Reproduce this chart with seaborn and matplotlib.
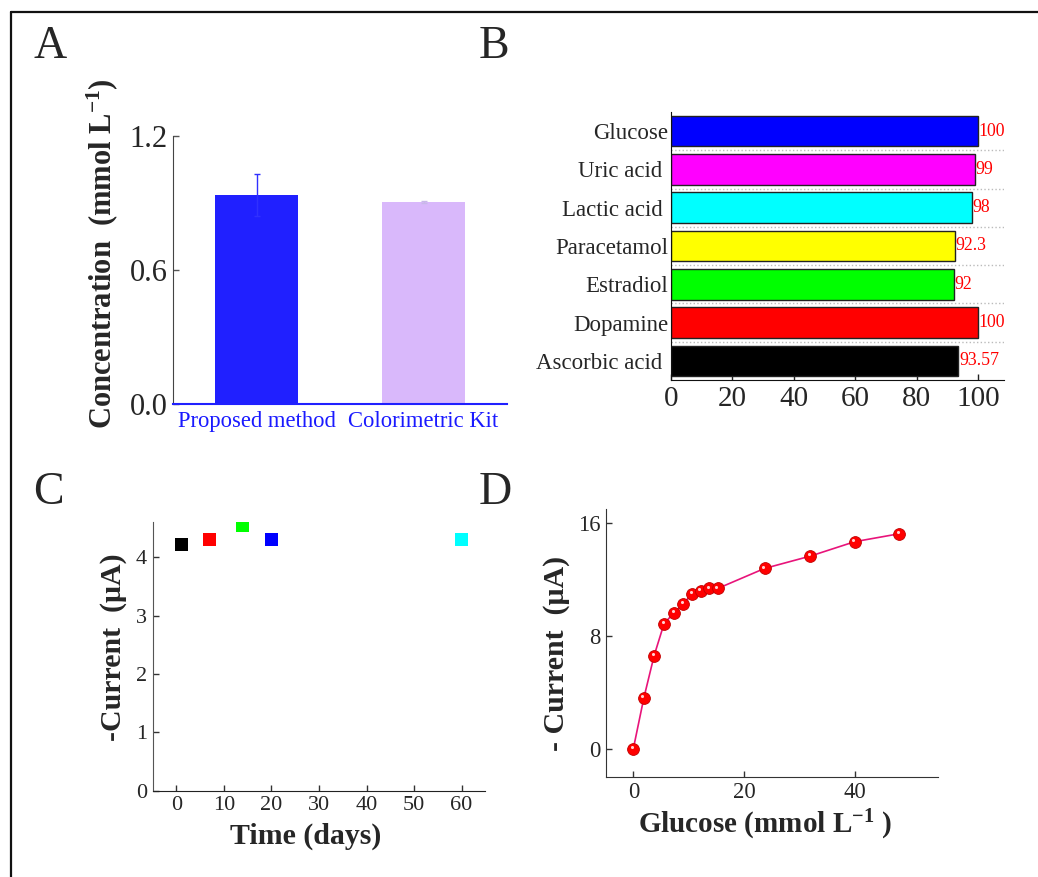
import numpy as np
import pandas as pd
import matplotlib
matplotlib.use("Agg")
import matplotlib.pyplot as plt
from matplotlib.lines import Line2D
from matplotlib import transforms
import seaborn as sns

# ---------------- data ----------------
# Panel A
methods = ["Proposed method", "Colorimetric Kit"]
concentration = [0.936, 0.904]
concentration_err = [0.092, 0.004]
method_colors = ["#2020ff", "#d9b8fb"]
method_err_colors = ["#3030ff", "#c8b8e8"]

# Panel B
interferents = ["Glucose", "Uric acid ", "Lactic acid ", "Paracetamol",
                "Estradiol", "Dopamine", "Ascorbic acid "]
response = [100, 99, 98, 92.3, 92, 100, 93.57]
response_labels = ["100", "99", "98", "92.3", "92", "100", "93.57"]
interferent_colors = ["#0000ff", "#ff00ff", "#00ffff", "#ffff00",
                      "#00ff00", "#ff0000", "#000000"]

# Panel C
days = [1, 7, 14, 20, 60]
day_names = ["d1", "d7", "d14", "d20", "d60"]
stability_current = [4.22, 4.31, 4.55, 4.31, 4.31]
day_colors = ["#000000", "#ff0000", "#00ff00", "#0000ff", "#00ffff"]

# Panel D
glucose = [0, 1.9, 3.75, 5.55, 7.35, 9.05, 10.6, 12.2, 13.75, 15.25,
           23.7, 32.0, 40.0, 48.0]
calib_current = [0, 3.60, 6.59, 8.87, 9.63, 10.27, 11.0, 11.17, 11.36,
                 11.36, 12.78, 13.66, 14.68, 15.24]

# ---------------- style ----------------
sns.set_style("ticks")
plt.rcParams["font.family"] = ["Liberation Serif", "DejaVu Serif"]
plt.rcParams["mathtext.fontset"] = "custom"
plt.rcParams["mathtext.rm"] = "Liberation Serif"
plt.rcParams["mathtext.bf"] = "Liberation Serif:bold"
plt.rcParams["mathtext.it"] = "Liberation Serif:italic"
plt.rcParams["xtick.direction"] = "in"
plt.rcParams["ytick.direction"] = "in"

W, H = 1038, 877
fig = plt.figure(figsize=(W / 100, H / 100), dpi=100)


def rect(l, r, t, b):
    return [l / W, (H - b) / H, (r - l) / W, (b - t) / H]


# ---------------- panel A ----------------
axA = fig.add_axes(rect(173, 507, 136, 404))
dfA = pd.DataFrame({"method": methods, "conc": concentration})
sns.barplot(data=dfA, x="method", y="conc", hue="method", palette=method_colors,
            width=0.5, saturation=1, legend=False, errorbar=None, ax=axA,
            linewidth=0)
for i, (v, e) in enumerate(zip(concentration, concentration_err)):
    axA.errorbar(i, v, yerr=e, fmt="none", ecolor=method_err_colors[i],
                 elinewidth=1, capsize=2.2, capthick=1, zorder=5)
axA.set_xlim(-0.5, 1.5)
axA.set_ylim(0, 1.2)
axA.set_yticks([0, 0.6, 1.2])
axA.set_yticklabels(["0.0", "0.6", "1.2"])
axA.tick_params(axis="y", labelsize=22, length=4, width=1, color="#555555", pad=4)
axA.tick_params(axis="x", labelsize=16.3, length=4, width=1, color="#2020ff",
                labelcolor="#1a1aff", pad=5)
axA.set_xlabel("")
axA.set_ylabel(r"Concentration  (mmol L$^{\mathbf{-1}}$)", fontsize=22,
               fontweight="bold")
axA.yaxis.set_label_coords(-0.159, 0.56)
for s in ["top", "right"]:
    axA.spines[s].set_visible(False)
axA.spines["bottom"].set_color("#2020ff")
axA.spines["bottom"].set_linewidth(1.5)
axA.spines["left"].set_color("#444444")

# ---------------- panel B ----------------
axB = fig.add_axes(rect(671, 1004, 112, 380))
dfB = pd.DataFrame({"name": interferents, "resp": response})
sns.barplot(data=dfB, x="resp", y="name", hue="name", palette=interferent_colors,
            orient="h", width=0.8, saturation=1, legend=False, errorbar=None,
            edgecolor="#222222", linewidth=1.0, ax=axB)
for cont, lab in zip(axB.containers, response_labels):
    axB.bar_label(cont, labels=[lab], padding=0.5, color="red", fontsize=12.8)
for i in range(len(interferents) - 1):
    axB.axhline(i + 0.5, color="#bbbbbb", linestyle=":", linewidth=1, zorder=0)
axB.set_xlim(0, 108.4)
axB.set_ylim(len(interferents) - 0.5, -0.5)
axB.set_xticks([0, 20, 40, 60, 80, 100])
axB.tick_params(axis="x", labelsize=21, length=4, width=1, color="#222222", pad=4)
axB.tick_params(axis="y", labelsize=16.5, length=4, width=1, color="#222222", pad=2)
axB.set_xlabel("")
axB.set_ylabel("")
for s in ["top", "right"]:
    axB.spines[s].set_visible(False)
axB.spines["left"].set_color("#111111")
axB.spines["bottom"].set_color("#111111")

# ---------------- panel C ----------------
axC = fig.add_axes(rect(152.7, 485.3, 522.3, 790.7))
dfC = pd.DataFrame({"day": days, "cur": stability_current, "name": day_names})
sns.scatterplot(data=dfC, x="day", y="cur", hue="name", palette=day_colors,
                marker="s", s=88, linewidth=0, legend=False, ax=axC)
axC.set_xlim(-5, 65)
axC.set_ylim(0, 4.6)
axC.set_xticks([0, 10, 20, 30, 40, 50, 60])
axC.set_yticks([0, 1, 2, 3, 4])
axC.tick_params(axis="both", labelsize=16, length=4, width=1, color="#333333", pad=4)
axC.set_xlabel("Time (days)", fontsize=21.5, fontweight="bold")
axC.set_ylabel("-Current  (\u03bcA)", fontsize=21.5, fontweight="bold")
axC.xaxis.set_label_coords(0.46, -0.12)
axC.yaxis.set_label_coords(-0.077, 0.534)
for s in ["top", "right"]:
    axC.spines[s].set_visible(False)
axC.spines["left"].set_color("#555555")
axC.spines["bottom"].set_color("#222222")

# ---------------- panel D ----------------
axD = fig.add_axes(rect(605.7, 937.7, 509, 776.7))
dfD = pd.DataFrame({"glu": glucose, "cur": calib_current})
sns.lineplot(data=dfD, x="glu", y="cur", color="#e8147a", linewidth=1.2,
             marker="o", markersize=8.5, markerfacecolor="#ff0000",
             markeredgecolor="#c00000", markeredgewidth=0.6, ax=axD)
hl = transforms.offset_copy(axD.transData, fig=fig, x=-1.0, y=1.2, units="points")
axD.scatter(glucose, calib_current, s=5, color="#ffd0d0", linewidth=0,
            transform=hl, zorder=5)
axD.set_xlim(-5, 55)
axD.set_ylim(-2, 17)
axD.set_xticks([0, 20, 40])
axD.set_yticks([0, 8, 16])
axD.tick_params(axis="both", labelsize=16.3, length=4, width=1, color="#333333", pad=4)
axD.set_xlabel(r"Glucose (mmol L$^{\mathbf{-1}}$ )", fontsize=21, fontweight="bold")
axD.set_ylabel("- Current  (\u03bcA)", fontsize=21.5, fontweight="bold")
axD.xaxis.set_label_coords(0.481, -0.117)
axD.yaxis.set_label_coords(-0.108, 0.461)
for s in ["top", "right"]:
    axD.spines[s].set_visible(False)
axD.spines["left"].set_color("#333333")
axD.spines["bottom"].set_color("#333333")

# ---------------- panel letters & frame ----------------
for letter, x, y in [("A", 33, 58), ("B", 479, 58), ("C", 33, 504), ("D", 479, 504)]:
    fig.text(x / W, 1 - y / H, letter, fontsize=33, ha="left", va="baseline")

fig.add_artist(Line2D([11 / W, 1], [1 - 12 / H, 1 - 12 / H],
                      transform=fig.transFigure, color="#111111", linewidth=1.6))
fig.add_artist(Line2D([11 / W, 11 / W], [1 - 12 / H, 0],
                      transform=fig.transFigure, color="#111111", linewidth=1.6))

fig.savefig("out.png", dpi=100)
